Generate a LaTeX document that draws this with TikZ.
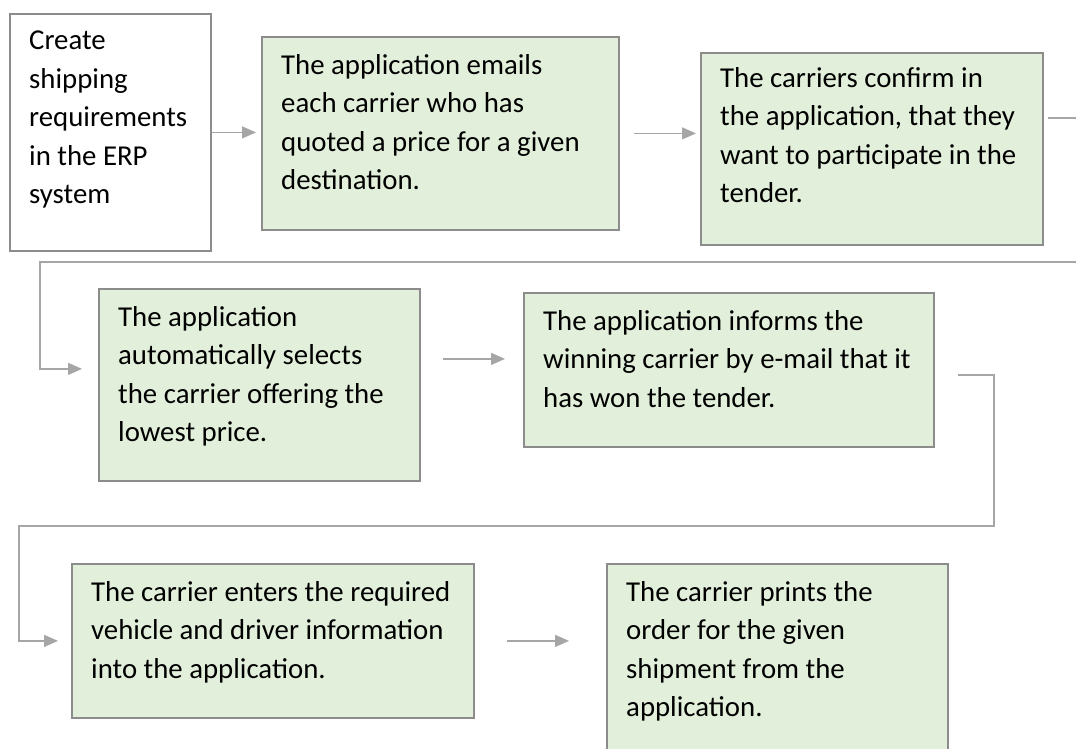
\documentclass[tikz,border=0pt]{standalone}
\usepackage{fontspec}
\setmainfont{Carlito}
\usetikzlibrary{arrows.meta, calc, positioning}

\definecolor{boxgreen}{HTML}{E2EFDA}
\definecolor{boxline}{HTML}{8C8C8C}
\definecolor{linkgray}{HTML}{A6A6A6}

\tikzset{
  plainbox/.style={draw=boxline, fill=white, line width=1.8pt, anchor=north west, inner sep=0pt},
  taskbox/.style={plainbox, fill=boxgreen},
  boxtext/.style={anchor=north west, align=left, inner xsep=20pt, inner ysep=18pt,
    font=\fontsize{28.8}{38.5}\selectfont},
  link/.style={draw=linkgray, line width=1.3pt, -{Triangle[length=14pt, width=12pt]}}
}

\begin{document}
\begin{tikzpicture}[x=1pt, y=-1pt]
  \useasboundingbox (0,0) rectangle (1076,749);
  \clip (0,0) rectangle (1076,749);
  \fill[white] (0,0) rectangle (1076,749);

  % First row
  \node[plainbox, minimum width=201pt, minimum height=237pt] (erp) at (9,13) {};
  \node[boxtext] (erptxt) at (erp.north west)
    {Create\\ shipping\\ requirements\\ in the ERP\\ system};
  \node[taskbox, minimum width=357pt, minimum height=193pt] (email) at (261,36) {};
  \node[boxtext] (emailtxt) at (email.north west)
    {The application emails\\ each carrier who has\\ quoted a price for a given\\ destination.};
  \node[taskbox, minimum width=342pt, minimum height=192pt] (confirm) at (700,52) {};
  \node[boxtext, inner ysep=15pt] (confirmtxt) at (confirm.north west)
    {The carriers confirm in\\ the application, that they\\ want to participate in the\\ tender.};

  % Second row
  \node[taskbox, minimum width=321pt, minimum height=192pt] (select) at (98,288) {};
  \node[boxtext] (selecttxt) at (select.north west)
    {The application\\ automatically selects\\ the carrier offering the\\ lowest price.};
  \node[taskbox, minimum width=410pt, minimum height=154pt] (inform) at (523,292) {};
  \node[boxtext] (informtxt) at (inform.north west)
    {The application informs the\\ winning carrier by e-mail that it\\ has won the tender.};

  % Third row (last box runs off the bottom)
  \node[taskbox, minimum width=402pt, minimum height=154pt] (enter) at (71,563) {};
  \node[boxtext] (entertxt) at (enter.north west)
    {The carrier enters the required\\ vehicle and driver information\\ into the application.};
  \node[taskbox, minimum width=341pt, minimum height=200pt] (print) at (606,563) {};
  \node[boxtext] (printtxt) at (print.north west)
    {The carrier prints the\\ order for the given\\ shipment from the\\ application.};

  % Straight arrows inside a row
  \draw[link, shorten >=5pt] (erp.east) -- (erp.east -| email.west);
  \draw[link, shorten <=14pt, shorten >=4pt] (email.east) -- (email.east -| confirm.west);
  \coordinate (mid2) at ([yshift=11pt]inform.west);
  \draw[link, shorten <=22pt, shorten >=18pt] (mid2 -| select.east) -- (mid2);
  \draw[link, shorten <=32pt, shorten >=37pt] (enter.east) -- (enter.east -| print.west);

  % Bent connectors between rows
  \coordinate (turn1) at (1090,262);
  \coordinate (turn2) at (40,262);
  \draw[link] ([xshift=4pt, yshift=31pt]confirm.east) -| (turn1) -- (turn2)
    |- ([xshift=-16pt, yshift=16pt]select.west);
  \coordinate (turn3) at (994,526);
  \coordinate (turn4) at (19,526);
  \draw[link] ([xshift=23pt, yshift=-5pt]inform.east) -| (turn3) -- (turn4)
    |- ([xshift=-13pt]enter.west);
\end{tikzpicture}
\end{document}
